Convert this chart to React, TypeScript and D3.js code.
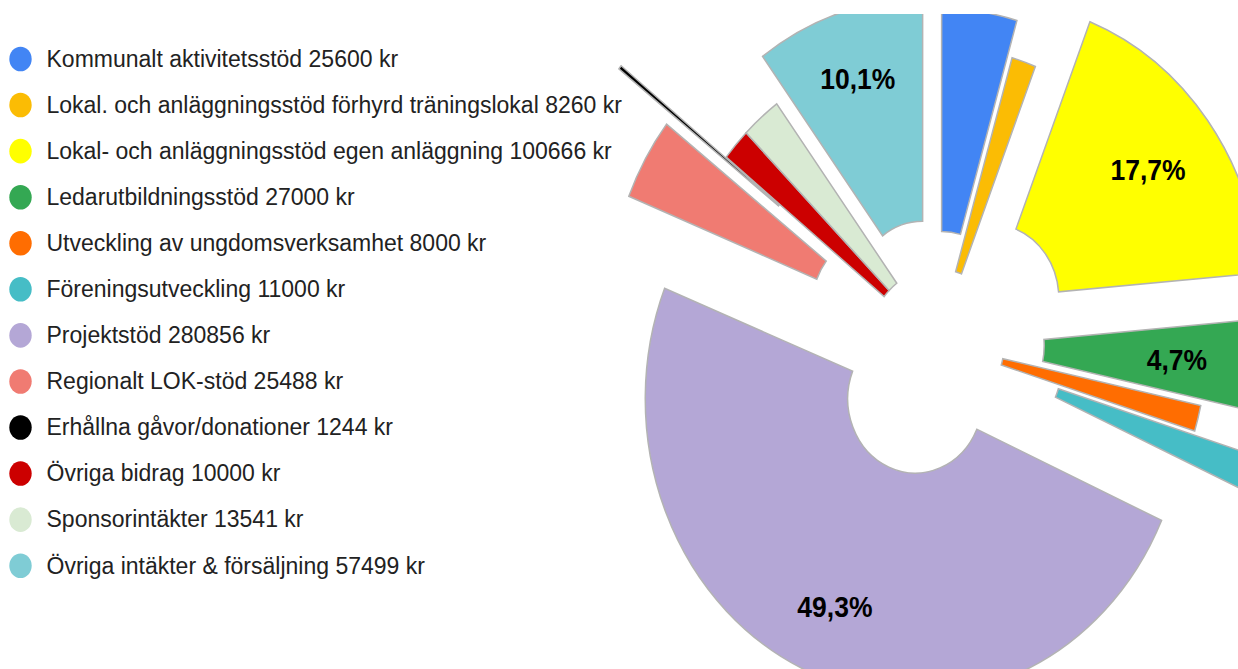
import React from "react";
import * as d3 from "d3";

const categories = [
  "Kommunalt aktivitetsstöd",
  "Lokal. och anläggningsstöd förhyrd träningslokal",
  "Lokal- och anläggningsstöd egen anläggning",
  "Ledarutbildningsstöd",
  "Utveckling av ungdomsverksamhet",
  "Föreningsutveckling",
  "Projektstöd",
  "Regionalt LOK-stöd",
  "Erhållna gåvor/donationer",
  "Övriga bidrag",
  "Sponsorintäkter",
  "Övriga intäkter & försäljning",
];
const values = [25600, 8260, 100666, 27000, 8000, 11000, 280856, 25488, 1244, 10000, 13541, 57499];
const colors = [
  "#4285f4", "#fbbc04", "#ffff00", "#34a853", "#ff6d01", "#46bdc6",
  "#b4a7d6", "#f07b72", "#000000", "#cc0000", "#d9ead3", "#7fccd5",
];
// slice explode offsets, fraction of outer radius
const explode = [0.127, 0, 0.252, 0.148, 0, 0.226, 0.204, 0.245, 0.496, 0, 0, 0.168];

const W = 1238;
const H = 669;
const R = 270;
const HOLE = 0.25;
const CX = 936.8;
const CY = 343;
const SY = 1.1;
const LABEL_FONT = 26.5;
const FONT = "Arial, 'Liberation Sans', sans-serif";

function measure(text: string, font: string): number {
  const c = document.createElement("canvas").getContext("2d");
  if (!c) return text.length * 15;
  c.font = font;
  return c.measureText(text).width;
}

export default function App() {
  const total = d3.sum(values);
  const pie = d3.pie<number>().sort(null).startAngle(0).endAngle(2 * Math.PI);
  const arcs = pie(values);
  const arc = d3.arc<d3.PieArcDatum<number>>().innerRadius(R * HOLE).outerRadius(R);
  const fmt = (v: number) => ((v / total) * 100).toFixed(1).replace(".", ",") + "%";

  const legendY = d3.scaleLinear().domain([0, categories.length - 1]).range([59, 565.7]);

  return (
    <svg width={W} height={H} style={{ position: "absolute", left: 0, top: 0, background: "#fff" }}>
      <defs>
        <clipPath id="clipChart">
          <rect x={0} y={14} width={W} height={H - 14} />
        </clipPath>
      </defs>
      <rect x={0} y={0} width={W} height={H} fill="#fff" />
      <g clipPath="url(#clipChart)">
        <g transform={`translate(${CX},${CY}) scale(1,${SY})`}>
          {arcs.map((a, i) => {
            const mid = (a.startAngle + a.endAngle) / 2;
            const o = explode[i] * R;
            const dx = o * Math.sin(mid);
            const dy = -o * Math.cos(mid);
            return (
              <path
                key={i}
                d={arc(a) || ""}
                transform={`translate(${dx},${dy})`}
                fill={colors[i]}
                stroke="#b3b3b3"
                strokeWidth={1.5}
                vectorEffect="non-scaling-stroke"
                strokeLinejoin="miter"
              />
            );
          })}
          {arcs.map((a, i) => {
            if (a.value / total < 0.046) return null;
            const mid = (a.startAngle + a.endAngle) / 2;
            const o = explode[i] * R;
            const txt = fmt(a.value);
            const w = measure(txt, `bold ${LABEL_FONT}px ${FONT}`);
            const h = LABEL_FONT * 0.716;
            const proj = (w / 2) * Math.abs(Math.sin(mid)) * 0.85 + (h / 2) * Math.abs(Math.cos(mid));
            const rl = o + R * 0.84 - proj;
            const x = rl * Math.sin(mid);
            const y = -rl * Math.cos(mid);
            return (
              <text
                key={"l" + i}
                x={x}
                y={y + h / 2}
                textAnchor="middle"
                fontFamily={FONT}
                fontWeight="bold"
                fontSize={LABEL_FONT}
                fill="#000"
              >
                {txt}
              </text>
            );
          })}
        </g>
      </g>
      <g>
        {categories.map((c, i) => (
          <g key={c}>
            <ellipse cx={20.5} cy={legendY(i)} rx={11.2} ry={12.3} fill={colors[i]} />
            <text
              x={46.5}
              y={legendY(i) + 7.8}
              fontFamily={FONT}
              fontSize={23}
              fill="#222"
            >
              {`${c} ${values[i]} kr`}
            </text>
          </g>
        ))}
      </g>
    </svg>
  );
}
